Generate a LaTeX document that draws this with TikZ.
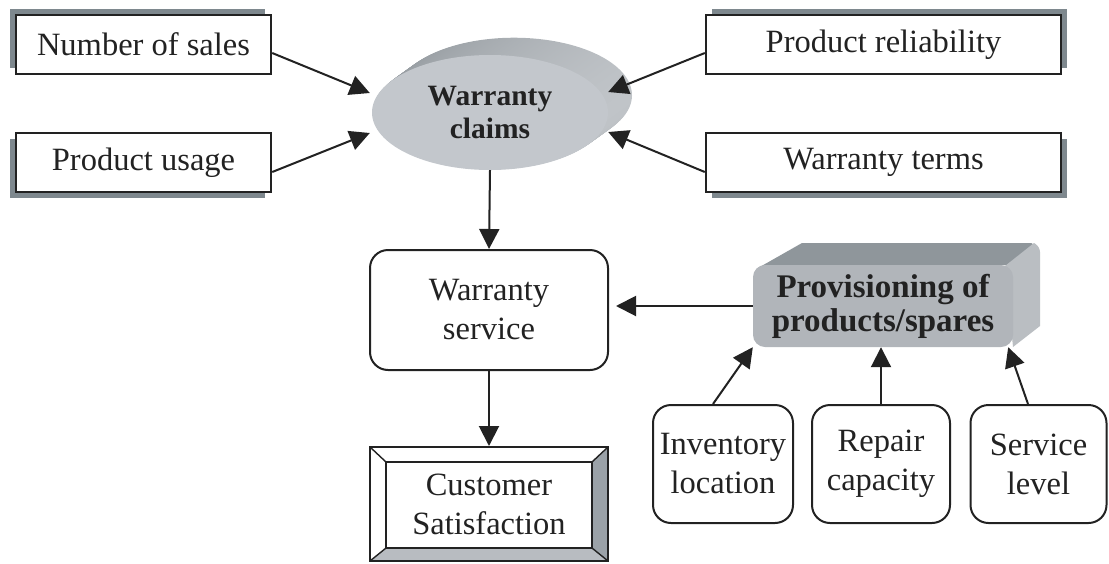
\documentclass[tikz,border=0pt]{standalone}
\usepackage{fontspec}
\setmainfont{Liberation Serif}
\usetikzlibrary{shadows,arrows.meta,shapes.geometric}
\definecolor{shadowc}{HTML}{7E888E}
\definecolor{ink}{HTML}{222222}
\definecolor{ellfront}{HTML}{C3C7CC}
\definecolor{ellbackL}{HTML}{959BA0}
\definecolor{ellbackR}{HTML}{C0C4C8}
\definecolor{pvfront}{HTML}{B1B5BA}
\definecolor{pvtop}{HTML}{8F969B}
\definecolor{pvside}{HTML}{BABEC2}
\definecolor{bevelR}{HTML}{9BA2A8}
\definecolor{bevelB}{HTML}{B8BCC1}
\begin{document}
\begin{tikzpicture}[x=1pt,y=-1pt,
  txt/.style={font=\fontsize{32.5}{39}\selectfont, align=center, text=ink},
  box/.style={txt, draw=ink, line width=2.4pt, fill=white, inner sep=0pt, minimum height=59pt},
  rbox/.style={txt, draw=ink, line width=2pt, fill=white, rounded corners=18pt, inner sep=0pt},
  arr/.style={line width=2pt, draw=ink, -{Triangle[length=20pt,width=20pt]}}
]
\useasboundingbox (0,0) rectangle (1109,563);

% input boxes with offset shadows
\node[box, minimum width=255pt, general shadow={fill=shadowc, shadow xshift=-6pt, shadow yshift=6pt}] (ns) at (143.5,44.5) {Number of sales};
\node[box, minimum width=255pt, general shadow={fill=shadowc, shadow xshift=-6pt, shadow yshift=-6pt}] (pu) at (143.5,162.5) {Product usage};
\node[box, minimum width=355pt, general shadow={fill=shadowc, shadow xshift=6pt, shadow yshift=6pt}] (pr) at (883.5,44.5) {Product reliability};
\node[box, minimum width=355pt, general shadow={fill=shadowc, shadow xshift=6pt, shadow yshift=-6pt}] (wt) at (883.5,162.5) {Warranty terms};

% 3D ellipse: extrusion
\foreach \i in {24,...,1}{
  \shade[left color=ellbackL, right color=ellbackR] ({490+\i},{112.5-0.72*\i}) ellipse [x radius=118pt, y radius=57.5pt];
}
\node[ellipse, fill=ellfront, minimum width=236pt, minimum height=115pt, inner sep=0pt,
      font=\bfseries\fontsize{29.5}{33}\selectfont, align=center, text=ink] (wc) at (490,112.5) {Warranty\\claims};

% warranty service
\node[rbox, minimum width=238pt, minimum height=120pt] (ws) at (489,310) {Warranty\\service};

% customer satisfaction bevel frame
\fill[white] (370,447) -- (608,447) -- (592,462) -- (386,462) -- cycle;
\fill[white] (370,447) -- (386,462) -- (386,548) -- (370,561) -- cycle;
\fill[bevelR] (608,447) -- (608,561) -- (592,548) -- (592,462) -- cycle;
\fill[bevelB] (370,561) -- (386,548) -- (592,548) -- (608,561) -- cycle;
\draw[ink, line width=1.6pt] (386,462) rectangle (592,548);
\draw[ink, line width=1.4pt] (370,447) -- (386,462) (608,447) -- (592,462) (370,561) -- (386,548) (608,561) -- (592,548);
\node[txt, draw=ink, line width=2pt, minimum width=238pt, minimum height=114pt, inner sep=0pt] (cs) at (489,504) {Customer\\Satisfaction};

% provisioning 3D box
\fill[pvtop] (758,268) -- (802,243) [rounded corners=6pt] -- (1036,243) [sharp corners] -- (1013,265) -- cycle;
\fill[pvside] (1005,266) -- (1034,243) [rounded corners=5pt] -- (1040,247) [sharp corners] -- (1040,326) -- (1013,347) -- cycle;
\node[fill=pvfront, rounded corners=12pt, minimum width=260pt, minimum height=82pt, inner sep=0pt,
      font=\bfseries\fontsize{33}{34}\selectfont, align=center, text=ink] (pv) at (883,306) {Provisioning of\\products/spares};

% bottom factors
\node[rbox, minimum width=140pt, minimum height=118pt] (il) at (723,464) {Inventory\\location};
\node[rbox, minimum width=138pt, minimum height=118pt] (rc) at (881,464) {Repair\\capacity};
\node[rbox, minimum width=136pt, minimum height=118pt] (sl) at (1038.5,464) {Service\\level};

% connectors
\draw[arr] ([yshift=-8.5pt]ns.east) -- ([shift={(-2,-19.5)}]wc.west);
\draw[arr] ([yshift=-9.5pt]pu.east) -- ([shift={(-2,20.5)}]wc.west);
\draw[arr] ([yshift=-8.5pt]pr.west) -- ([shift={(0,-20.5)}]wc.east);
\draw[arr] ([yshift=-9.5pt]wt.west) -- ([shift={(0,19.5)}]wc.east);
\draw[arr] (wc.south) -- (ws.north);
\draw[arr, shorten >=7pt] (pv.west) -- (pv.west -| ws.east);
\draw[arr] (ws.south) -- (cs.north);
\draw[arr] ([xshift=-10pt]il.north) -- (pv.south west);
\draw[arr] (rc.north) -- (rc.north |- pv.south);
\draw[arr] ([xshift=-10.5pt]sl.north) -- ([xshift=-5pt]pv.south east);
\end{tikzpicture}
\end{document}
